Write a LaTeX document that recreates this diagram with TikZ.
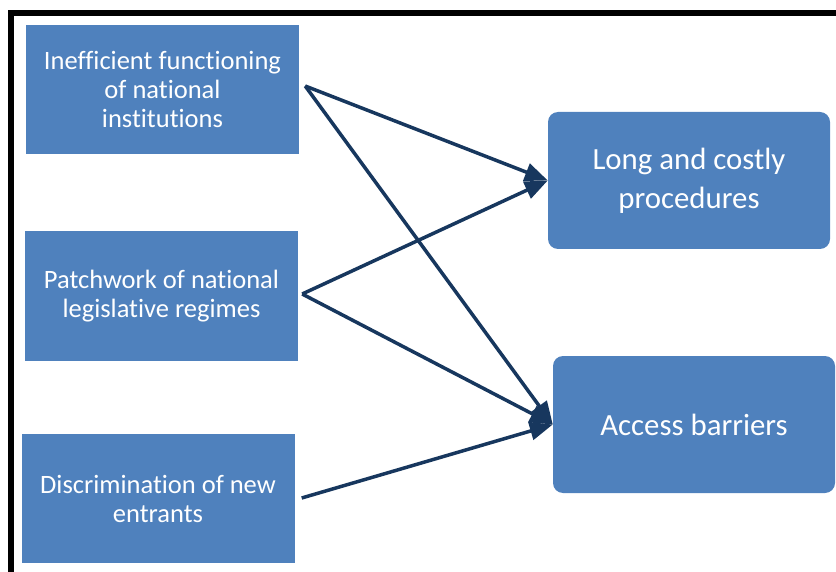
\documentclass[tikz,border=0pt]{standalone}
\usepackage{fontspec}
\setmainfont{Carlito}[Ligatures=NoCommon]
\usetikzlibrary{arrows.meta}

\definecolor{boxblue}{HTML}{4F81BD}
\definecolor{arrownavy}{HTML}{17375E}

\begin{document}
\begin{tikzpicture}[x=1pt,y=-1pt,
    cause/.style={fill=boxblue,text=white,align=center,inner sep=0pt,
        minimum width=273pt,minimum height=129pt,font=\fontsize{26.5}{29}\selectfont},
    effect/.style={fill=boxblue,text=white,align=center,inner sep=0pt,rounded corners=10pt,
        minimum width=282pt,minimum height=137pt,font=\fontsize{30.8}{39}\selectfont},
    link/.style={-{Triangle[length=23pt,width=18pt]},line width=3.5pt,draw=arrownavy}]
    \useasboundingbox (0,0) rectangle (836,572);

    \draw[line width=6pt] (11,572) -- (11,13.5) -- (836,13.5);

    \node[cause] (ineff) at (162.5,89.5) {Inefficient functioning\\of national\\institutions};
    \node[cause] (patch) at (161.5,296) {Patchwork of national\\legislative regimes};
    \node[cause] (discr) at (158,498.5) {Discrimination of new\\entrants};

    \node[effect] (long) at (689,180.5) {Long and costly\\procedures};
    \node[effect] (access) at (694,424.5) {Access barriers};

    \coordinate (s1) at ([shift={(6,-3.5)}]ineff.east);
    \coordinate (s2) at ([shift={(4,-2)}]patch.east);
    \coordinate (s3) at ([shift={(7,-0.5)}]discr.east);

    \draw[link] (s1) -- (long.west);
    \draw[link] (s1) -- (access.west);
    \draw[link] (s2) -- (long.west);
    \draw[link] (s2) -- (access.west);
    \draw[link] (s3) -- (access.west);
\end{tikzpicture}
\end{document}
